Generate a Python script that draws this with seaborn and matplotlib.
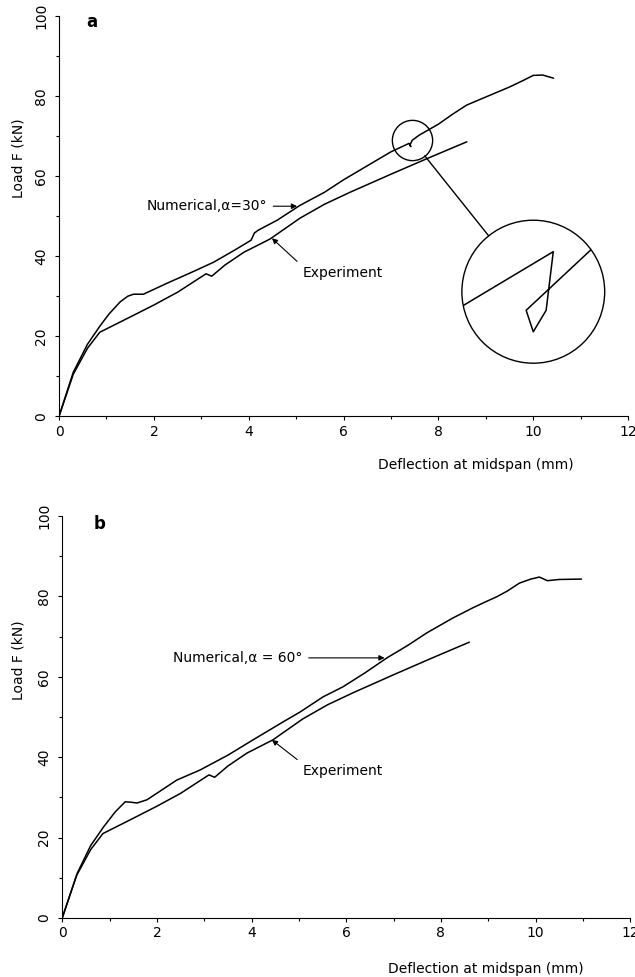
import matplotlib.pyplot as plt
import numpy as np
import pandas as pd
import seaborn as sns
from matplotlib.patches import Circle, ConnectionPatch
from matplotlib.ticker import MultipleLocator

# experiment, same test shown in both panels
exp_x = [0, 0.3, 0.6, 0.86, 1.5, 2.0, 2.5, 3.1, 3.22, 3.5, 3.9, 4.45, 5.08, 5.6, 6.14, 7.0, 7.8, 8.6]
exp_y = [0, 10.5, 17, 21, 24.8, 27.8, 31, 35.6, 35, 37.8, 41, 44.3, 49.5, 53, 56, 60.5, 64.6, 68.6]

# numerical, alpha = 30 deg (has a small snap-back near 7.4 mm)
num30_x = [0, 0.3, 0.6, 0.86, 1.05, 1.29, 1.45, 1.57, 1.78, 2.27, 2.8, 3.26, 3.7, 4.05, 4.12,
           4.2, 4.6, 5.08, 5.6, 6.0, 6.5, 7.0, 7.38, 7.42, 7.40, 7.45, 7.6, 8.0, 8.3, 8.6,
           9.0, 9.5, 9.8, 10.0, 10.2, 10.43]
num30_y = [0, 11, 18, 22.5, 25.5, 28.6, 30, 30.5, 30.5, 33.2, 36, 38.5, 41.5, 44, 45.8,
           46.5, 49, 52.7, 56, 59.1, 62.6, 66.1, 68.2, 67.4, 67.8, 69, 70.3, 73, 75.5, 77.8,
           79.8, 82.3, 84, 85.2, 85.3, 84.5]

# numerical, alpha = 60 deg
num60_x = [0, 0.32, 0.6, 0.87, 1.12, 1.33, 1.45, 1.58, 1.79, 2.42, 2.91, 3.5, 4.03, 4.67,
           5.02, 5.51, 5.93, 6.4, 6.86, 7.3, 7.7, 8.25, 8.7, 9.03, 9.18, 9.4, 9.66, 9.9,
           10.08, 10.25, 10.5, 10.97]
num60_y = [0, 11.2, 18, 22.6, 26.4, 28.9, 28.8, 28.6, 29.4, 34.3, 36.8, 40.5, 44.3, 48.8,
           51.2, 55, 57.5, 61, 64.7, 67.8, 70.9, 74.6, 77.3, 79.1, 79.9, 81.3, 83.3, 84.3,
           84.8, 83.9, 84.2, 84.3]

# magnified snap-back loop, in inset frame units (0..1)
zoom_u = [-0.1, 0.64, 0.59, 0.50, 0.45, 1.0]
zoom_v = [0.338, 0.78, 0.37, 0.22, 0.37, 0.883]
snap_x, snap_y = 7.45, 69

x_ticks = [0, 2, 4, 6, 8, 10, 12]
y_ticks = [0, 20, 40, 60, 80, 100]

sns.set_style("ticks", {"axes.edgecolor": "black", "xtick.color": "black",
                        "ytick.color": "black", "text.color": "black",
                        "axes.labelcolor": "black"})
plt.rcParams['font.family'] = ['DejaVu Sans']

fig = plt.figure(figsize=(6.35, 9.77), dpi=100)
ax_a = fig.add_axes([0.093, 0.574, 0.896, 0.4094])
ax_b = fig.add_axes([0.098, 0.0604, 0.8945, 0.4115])


def draw_panel(ax, nx, ny, letter, lx, ly, xl_pos, yl_pos):
    num = pd.DataFrame({'x': nx, 'y': ny})
    exp = pd.DataFrame({'x': exp_x, 'y': exp_y})
    sns.lineplot(data=num, x='x', y='y', sort=False, estimator=None,
                 color='black', lw=1.1, ax=ax)
    sns.lineplot(data=exp, x='x', y='y', sort=False, estimator=None,
                 color='black', lw=1.1, ax=ax)
    ax.set_xlim(0, 12)
    ax.set_ylim(0, 100)
    sns.despine(ax=ax)
    ax.set_xticks(x_ticks, labels=[str(v) for v in x_ticks])
    ax.set_yticks(y_ticks, labels=[str(v) for v in y_ticks], rotation=90, va='center')
    ax.xaxis.set_minor_locator(MultipleLocator(1))
    ax.yaxis.set_minor_locator(MultipleLocator(10))
    ax.tick_params(which='major', length=3, width=0.8, labelsize=10)
    ax.tick_params(which='minor', length=2, width=0.8)
    ax.tick_params(axis='y', pad=5)
    ax.tick_params(axis='x', pad=3)
    ax.set_xlabel('Deflection at midspan (mm)', fontsize=10, va='center')
    ax.set_ylabel('Load F (kN)', fontsize=10, va='center')
    ax.xaxis.set_label_coords(*xl_pos)
    ax.yaxis.set_label_coords(*yl_pos)
    ax.text(lx, ly, letter, fontsize=12, fontweight='bold', ha='center', va='center')


draw_panel(ax_a, num30_x, num30_y, 'a', 0.7, 98.5, (0.733, -0.122), (-0.072, 0.645))
draw_panel(ax_b, num60_x, num60_y, 'b', 0.78, 98, (0.745, -0.128), (-0.077, 0.64))

arrow = dict(arrowstyle='-|>', color='black', lw=0.8, mutation_scale=8, shrinkA=2, shrinkB=0)
arrow_exp = dict(arrow, relpos=(0, 1))

ax_a.annotate('Numerical,α=30°', xy=(5.02, 52.5), xytext=(4.39, 52.5),
              ha='right', va='center', fontsize=10, arrowprops=arrow)
ax_a.annotate('Experiment', xy=(4.49, 44.5), xytext=(5.13, 35.75),
              ha='left', va='center', fontsize=10, arrowprops=arrow_exp)
ax_b.annotate('Numerical,α = 60°', xy=(6.81, 64.7), xytext=(5.08, 64.7),
              ha='right', va='center', fontsize=10, arrowprops=arrow)
ax_b.annotate('Experiment', xy=(4.43, 44.3), xytext=(5.08, 36.6),
              ha='left', va='center', fontsize=10, arrowprops=arrow_exp)

# highlight circle and magnified inset
ax_a.plot([snap_x], [snap_y], marker='o', ms=29, mfc='none', mec='black', mew=1)
ins = ax_a.inset_axes([0.708, 0.1325, 0.251, 0.3575])
ins.set_xlim(0, 1)
ins.set_ylim(0, 1)
ins.axis('off')
circ = Circle((0.5, 0.5), 0.5, transform=ins.transAxes, fill=False, lw=1,
              ec='black', clip_on=False)
ins.add_patch(circ)
sns.lineplot(x=zoom_u, y=zoom_v, sort=False, estimator=None, color='black', lw=1.1, ax=ins)
ins.lines[-1].set_clip_path(circ)
ins.set_xlabel('')
ins.set_ylabel('')

con = ConnectionPatch(xyA=(snap_x, snap_y), coordsA=ax_a.transData,
                      xyB=(0.5, 0.5), coordsB=ins.transAxes,
                      shrinkA=14.4, shrinkB=51.5, lw=1, color='black')
ax_a.add_artist(con)

fig.savefig('out.png', dpi=100)
